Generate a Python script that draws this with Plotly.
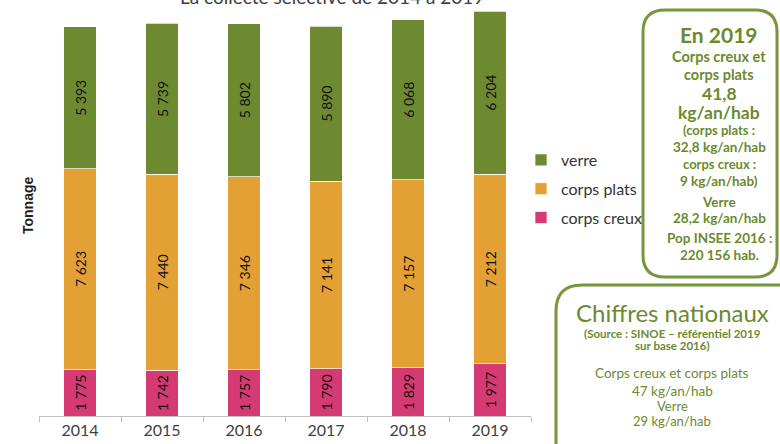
import plotly.graph_objects as go

years = ["2014", "2015", "2016", "2017", "2018", "2019"]
corps_creux = [1775, 1742, 1757, 1790, 1829, 1977]
corps_plats = [7623, 7440, 7346, 7141, 7157, 7212]
verre = [5393, 5739, 5802, 5890, 6068, 6204]
series_names = ["corps creux", "corps plats", "verre"]
series_colors = ["#D63A72", "#E3A034", "#6E8A31"]
legend_ranks = [3, 2, 1]

W, H = 780, 444
L, R, T, B = 39, 249, 0, 28
PW, PH = W - L - R, H - T - B
BOX_GREEN = "#78963A"
TXT_GREEN = "#6B8A2E"


def px(x):
    return (x - L) / PW


def py(y):
    return (H - B - y) / PH


def rounded(x0, y0, x1, y1, r):
    pts = [
        f"M {px(x0 + r)},{py(y0)}",
        f"L {px(x1 - r)},{py(y0)}",
        f"Q {px(x1)},{py(y0)} {px(x1)},{py(y0 + r)}",
        f"L {px(x1)},{py(y1 - r)}",
        f"Q {px(x1)},{py(y1)} {px(x1 - r)},{py(y1)}",
        f"L {px(x0 + r)},{py(y1)}",
        f"Q {px(x0)},{py(y1)} {px(x0)},{py(y1 - r)}",
        f"L {px(x0)},{py(y0 + r)}",
        f"Q {px(x0)},{py(y0)} {px(x0 + r)},{py(y0)}",
        "Z",
    ]
    return " ".join(pts)


fig = go.Figure()
for name, vals, col, rank in zip(series_names, [corps_creux, corps_plats, verre], series_colors, legend_ranks):
    fig.add_trace(go.Bar(
        x=years, y=vals, name=name, legendgroup=name, legendrank=rank,
        marker=dict(color=col, line=dict(color="rgba(255,255,255,0.7)", width=1)),
        texttemplate="%{y:,}", textposition="inside", insidetextanchor="middle",
        textangle=-90, textfont=dict(family="Lato", size=14, color="#111111"),
        hoverinfo="skip",
    ))

annotations = []


def txt(x, y, s, size, bold=False, color=TXT_GREEN, family="Lato"):
    if bold:
        s = f"<b>{s}</b>"
    annotations.append(dict(
        x=px(x), y=py(y), xref="paper", yref="paper", text=s, showarrow=False,
        xanchor="center", yanchor="middle",
        font=dict(family=family, size=size, color=color),
    ))


txt(332, -3, "La collecte sélective de 2014 à 2019", 19, color="#404040")
annotations.append(dict(
    x=px(28), y=py(205), xref="paper", yref="paper", text="<b>Tonnage</b>",
    showarrow=False, textangle=-90, xanchor="center", yanchor="middle",
    font=dict(family="Liberation Sans", size=14, color="#222222"),
))

bx = 719
txt(bx, 34, "En 2019", 21, bold=True)
txt(bx, 57, "Corps creux et", 14.5, bold=True)
txt(bx, 74, "corps plats", 14.5, bold=True)
txt(bx, 93, "41,8", 17.5, bold=True)
txt(bx, 112, "kg/an/hab", 17.5, bold=True)
txt(bx, 130, "(corps plats :", 13, bold=True)
txt(bx, 147, "32,8 kg/an/hab", 13.5, bold=True)
txt(bx, 164, "corps creux :", 13, bold=True)
txt(bx, 181, "9 kg/an/hab)", 13.5, bold=True)
txt(bx, 202, "Verre", 13.5, bold=True)
txt(bx, 218, "28,2 kg/an/hab", 13.5, bold=True)
txt(bx, 238, "Pop INSEE 2016 :", 13.5, bold=True)
txt(bx, 255, "220 156 hab.", 13.5, bold=True)

cx = 672
txt(cx, 312, "Chiffres nationaux", 24)
txt(cx, 333, "(Source : SINOE – référentiel 2019", 11.5, bold=True)
txt(cx, 345, "sur base 2016)", 11.5, bold=True)
txt(cx, 373, "Corps creux et corps plats", 13.5)
txt(cx, 391, "47 kg/an/hab", 13.5)
txt(cx, 406, "Verre", 13)
txt(cx, 421, "29 kg/an/hab", 13)

shapes = [
    dict(type="path", xref="paper", yref="paper", path=rounded(643, 10, 777, 277, 22),
         line=dict(color=BOX_GREEN, width=3), fillcolor="rgba(0,0,0,0)"),
    dict(type="path", xref="paper", yref="paper", path=rounded(556, 285, 810, 480, 26),
         line=dict(color=BOX_GREEN, width=3), fillcolor="rgba(0,0,0,0)"),
]

fig.update_layout(
    width=W, height=H,
    margin=dict(l=L, r=R, t=T, b=B, pad=0, autoexpand=False),
    barmode="stack", bargap=0.6,
    separators=", ",
    paper_bgcolor="white", plot_bgcolor="white",
    font=dict(family="Lato", color="#404040"),
    xaxis=dict(
        showline=True, linecolor="#BFBFBF", linewidth=1, automargin=False,
        ticks="outside", tickson="boundaries", ticklen=5, tickcolor="#BFBFBF",
        tickfont=dict(family="Lato", size=16, color="#404040"),
        showgrid=False, fixedrange=True,
    ),
    yaxis=dict(range=[0, PH / 0.02631], visible=False, showgrid=False, fixedrange=True,
               automargin=False),
    legend=dict(
        x=px(521), y=py(143), xanchor="left", yanchor="top",
        traceorder="grouped", tracegroupgap=5,
        font=dict(family="Lato", size=16, color="#333333"),
        itemwidth=30, bgcolor="rgba(0,0,0,0)",
    ),
    annotations=annotations,
    shapes=shapes,
)

fig.write_html(
    "out.html",
    config={"displayModeBar": False},
    post_script="document.body.style.margin='0';document.body.style.overflow='hidden';",
)
